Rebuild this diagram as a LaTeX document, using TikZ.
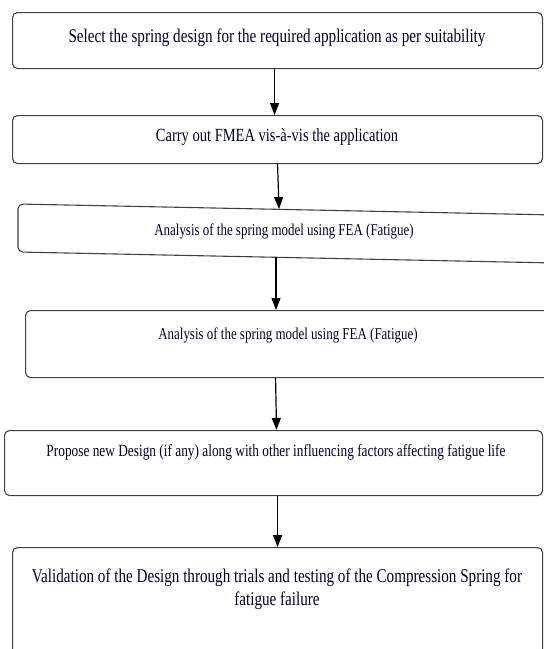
\documentclass[tikz,border=0pt]{standalone}
\usepackage{fontspec}
\setmainfont{Liberation Serif}[FakeStretch=0.78]
\usetikzlibrary{arrows.meta}

\begin{document}
\begin{tikzpicture}[x=1pt,y=-1pt,
    box/.style={draw=black!75, line width=1.1pt, rounded corners=5pt, anchor=north west, inner sep=0pt, minimum width=530pt},
    skew/.style={draw=black!75, line width=1.1pt, rounded corners=5pt},
    lbl/.style={inner sep=1pt, align=center, text=black!85!blue},
    big/.style={font=\fontsize{19.4}{23}\selectfont},
    small/.style={font=\fontsize{16.6}{19}\selectfont},
    arr/.style={-{Triangle[width=9pt,length=12pt]}, line width=1.2pt}]
    \useasboundingbox (0,0) rectangle (544,649);

    % Boxes
    \node[box, minimum height=56pt] (b1) at (12,12) {};
    \node[box, minimum height=48pt] (b2) at (12,115) {};
    \coordinate (b3a) at (18,204);
    \coordinate (b3b) at (580,215.5);
    \coordinate (b3c) at (580,263.5);
    \coordinate (b3d) at (18,252);
    \draw[skew] (b3a) -- (b3b) -- (b3c) -- (b3d) -- cycle;
    \node[box, minimum height=67pt, minimum width=540pt] (b4) at (25,310) {};
    \node[box, minimum height=65pt, minimum width=538pt] (b5) at (4,430) {};
    \node[box, minimum height=130pt] (b6) at (12,547) {};

    % Texts
    \node[lbl, big] (t1) at (277,38) {Select the spring design for the required application as per suitability};
    \node[lbl, big, font=\fontsize{18.6}{23}\selectfont] (t2) at (277,137) {Carry out FMEA vis-à-vis the application};
    \node[lbl, small] (t3) at (284,231) {Analysis of the spring model using FEA (Fatigue)};
    \node[lbl, small] (t4) at (288,335) {Analysis of the spring model using FEA (Fatigue)};
    \node[lbl, small, font=\fontsize{17.1}{19}\selectfont] (t5) at (276,452) {Propose new Design (if any) along with other influencing factors affecting fatigue life};
    \node[lbl, big] (t6) at (277,589) {Validation of the Design through trials and testing of the Compression Spring for\\fatigue failure};

    % Arrows
    \coordinate (b3in) at (279,209);
    \coordinate (b3out) at (276,257);
    \draw[arr] ([xshift=-3pt]b1.south) -- ([xshift=-3pt]b2.north);
    \draw[arr] (b2.south) -- (b3in);
    \draw[arr] (b3out) -- (b3out |- b4.north);
    \draw[arr] ([xshift=-20pt]b4.south) -- ([xshift=3pt]b5.north);
    \draw[arr] ([xshift=4pt]b5.south) -- (b6.north);
\end{tikzpicture}
\end{document}
